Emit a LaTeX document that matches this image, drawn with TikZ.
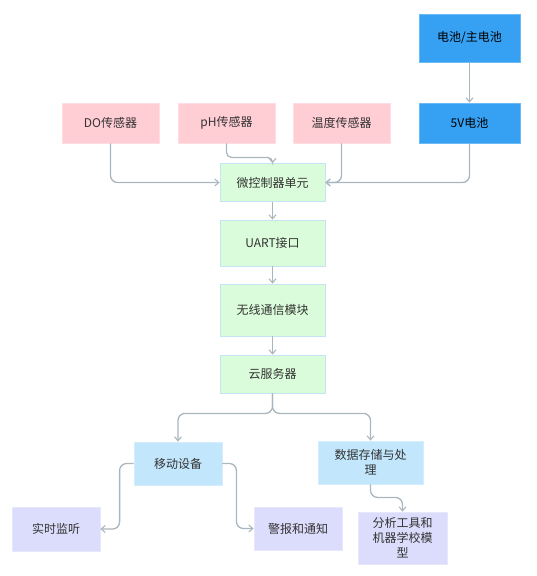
\documentclass[tikz,border=0pt]{standalone}
\usepackage{fontspec}
\setmainfont{Noto Sans CJK SC}
\usetikzlibrary{arrows.meta}
\definecolor{pinkfill}{HTML}{FFCDD4}
\definecolor{pinkline}{HTML}{FFDDE2}
\definecolor{bluefill}{HTML}{36A0F2}
\definecolor{blueline}{HTML}{6CBAF6}
\definecolor{greenfill}{HTML}{DAFCDA}
\definecolor{greenline}{HTML}{C4E6F2}
\definecolor{lbluefill}{HTML}{C2E6FC}
\definecolor{lblueline}{HTML}{D4EEFD}
\definecolor{lavfill}{HTML}{DCDCFC}
\definecolor{lavline}{HTML}{E8E8FD}
\definecolor{connc}{HTML}{A9B6BE}
\definecolor{txt}{HTML}{333333}
\begin{document}
\begin{tikzpicture}[x=1pt,y=-1pt,
  box/.style={draw, line width=0.8pt, align=center, inner sep=0pt, text=txt,
    font=\fontsize{12}{15}\selectfont},
  pinkbox/.style={box, fill=pinkfill, draw=pinkline, minimum width=97pt, minimum height=40pt},
  bluebox/.style={box, fill=bluefill, draw=blueline, minimum width=101pt, text=black},
  greenbox/.style={box, fill=greenfill, draw=greenline, minimum width=105pt},
  lbluebox/.style={box, fill=lbluefill, draw=lblueline},
  lavbox/.style={box, fill=lavfill, draw=lavline},
  conn/.style={draw=connc, line width=1.3pt, rounded corners=7pt,
    -{Straight Barb[length=4pt,width=7pt,line width=1.1pt]}}
]
\useasboundingbox (0,0) rectangle (536,576);

\node[bluebox, minimum height=48pt] (bat) at (469.5,38) {电池/主电池};
\node[bluebox, minimum height=40pt] (v5) at (469.5,123) {5V电池};
\node[pinkbox] (do) at (110.5,123) {DO传感器};
\node[pinkbox] (ph) at (226.5,123) {pH传感器};
\node[pinkbox] (temp) at (341.5,123) {温度传感器};

\node[greenbox, minimum height=38pt] (mcu) at (272.5,182.5) {微控制器单元};
\node[greenbox, minimum height=46pt] (uart) at (272.5,243) {UART接口};
\node[greenbox, minimum height=52pt] (wl) at (272.5,310) {无线通信模块};
\node[greenbox, minimum height=38pt] (cloud) at (272.5,374) {云服务器};

\node[lbluebox, minimum width=88pt, minimum height=43pt] (mob) at (178,463.5) {移动设备};
\node[lbluebox, minimum width=105pt, minimum height=43pt] (data) at (370.5,462.5) {数据存储与处\\理};

\node[lavbox, minimum width=88pt, minimum height=44pt] (rt) at (56,529) {实时监听};
\node[lavbox, minimum width=88pt, minimum height=43pt] (alarm) at (298,528.5) {警报和通知};
\node[lavbox, minimum width=89pt, minimum height=52pt] (ana) at (402.5,538) {分析工具和\\机器学校模\\型};

\draw[conn] (bat) -- (v5);
\draw[conn] (do.south) |- (mcu.west);
\draw[conn, rounded corners=5pt] (ph.south) -- ++(0,14) -| (mcu.north);
\draw[conn] (temp.south) |- (mcu.east);
\draw[conn] (v5.south) |- (mcu.east);

\draw[conn] (mcu) -- (uart);
\draw[conn] (uart) -- (wl);
\draw[conn] (wl) -- (cloud);

\draw[conn] (cloud.south) -- ++(0,20) -| (mob.north);
\draw[conn] (cloud.south) -- ++(0,20) -| (data.north);

\draw[conn] (mob.west) -- ++(-14,0) |- (rt.east);
\draw[conn] (mob.east) -- ++(14,0) |- (alarm.west);
\draw[conn] (data.south) -- ++(0,13) -| (ana.north);
\end{tikzpicture}
\end{document}
